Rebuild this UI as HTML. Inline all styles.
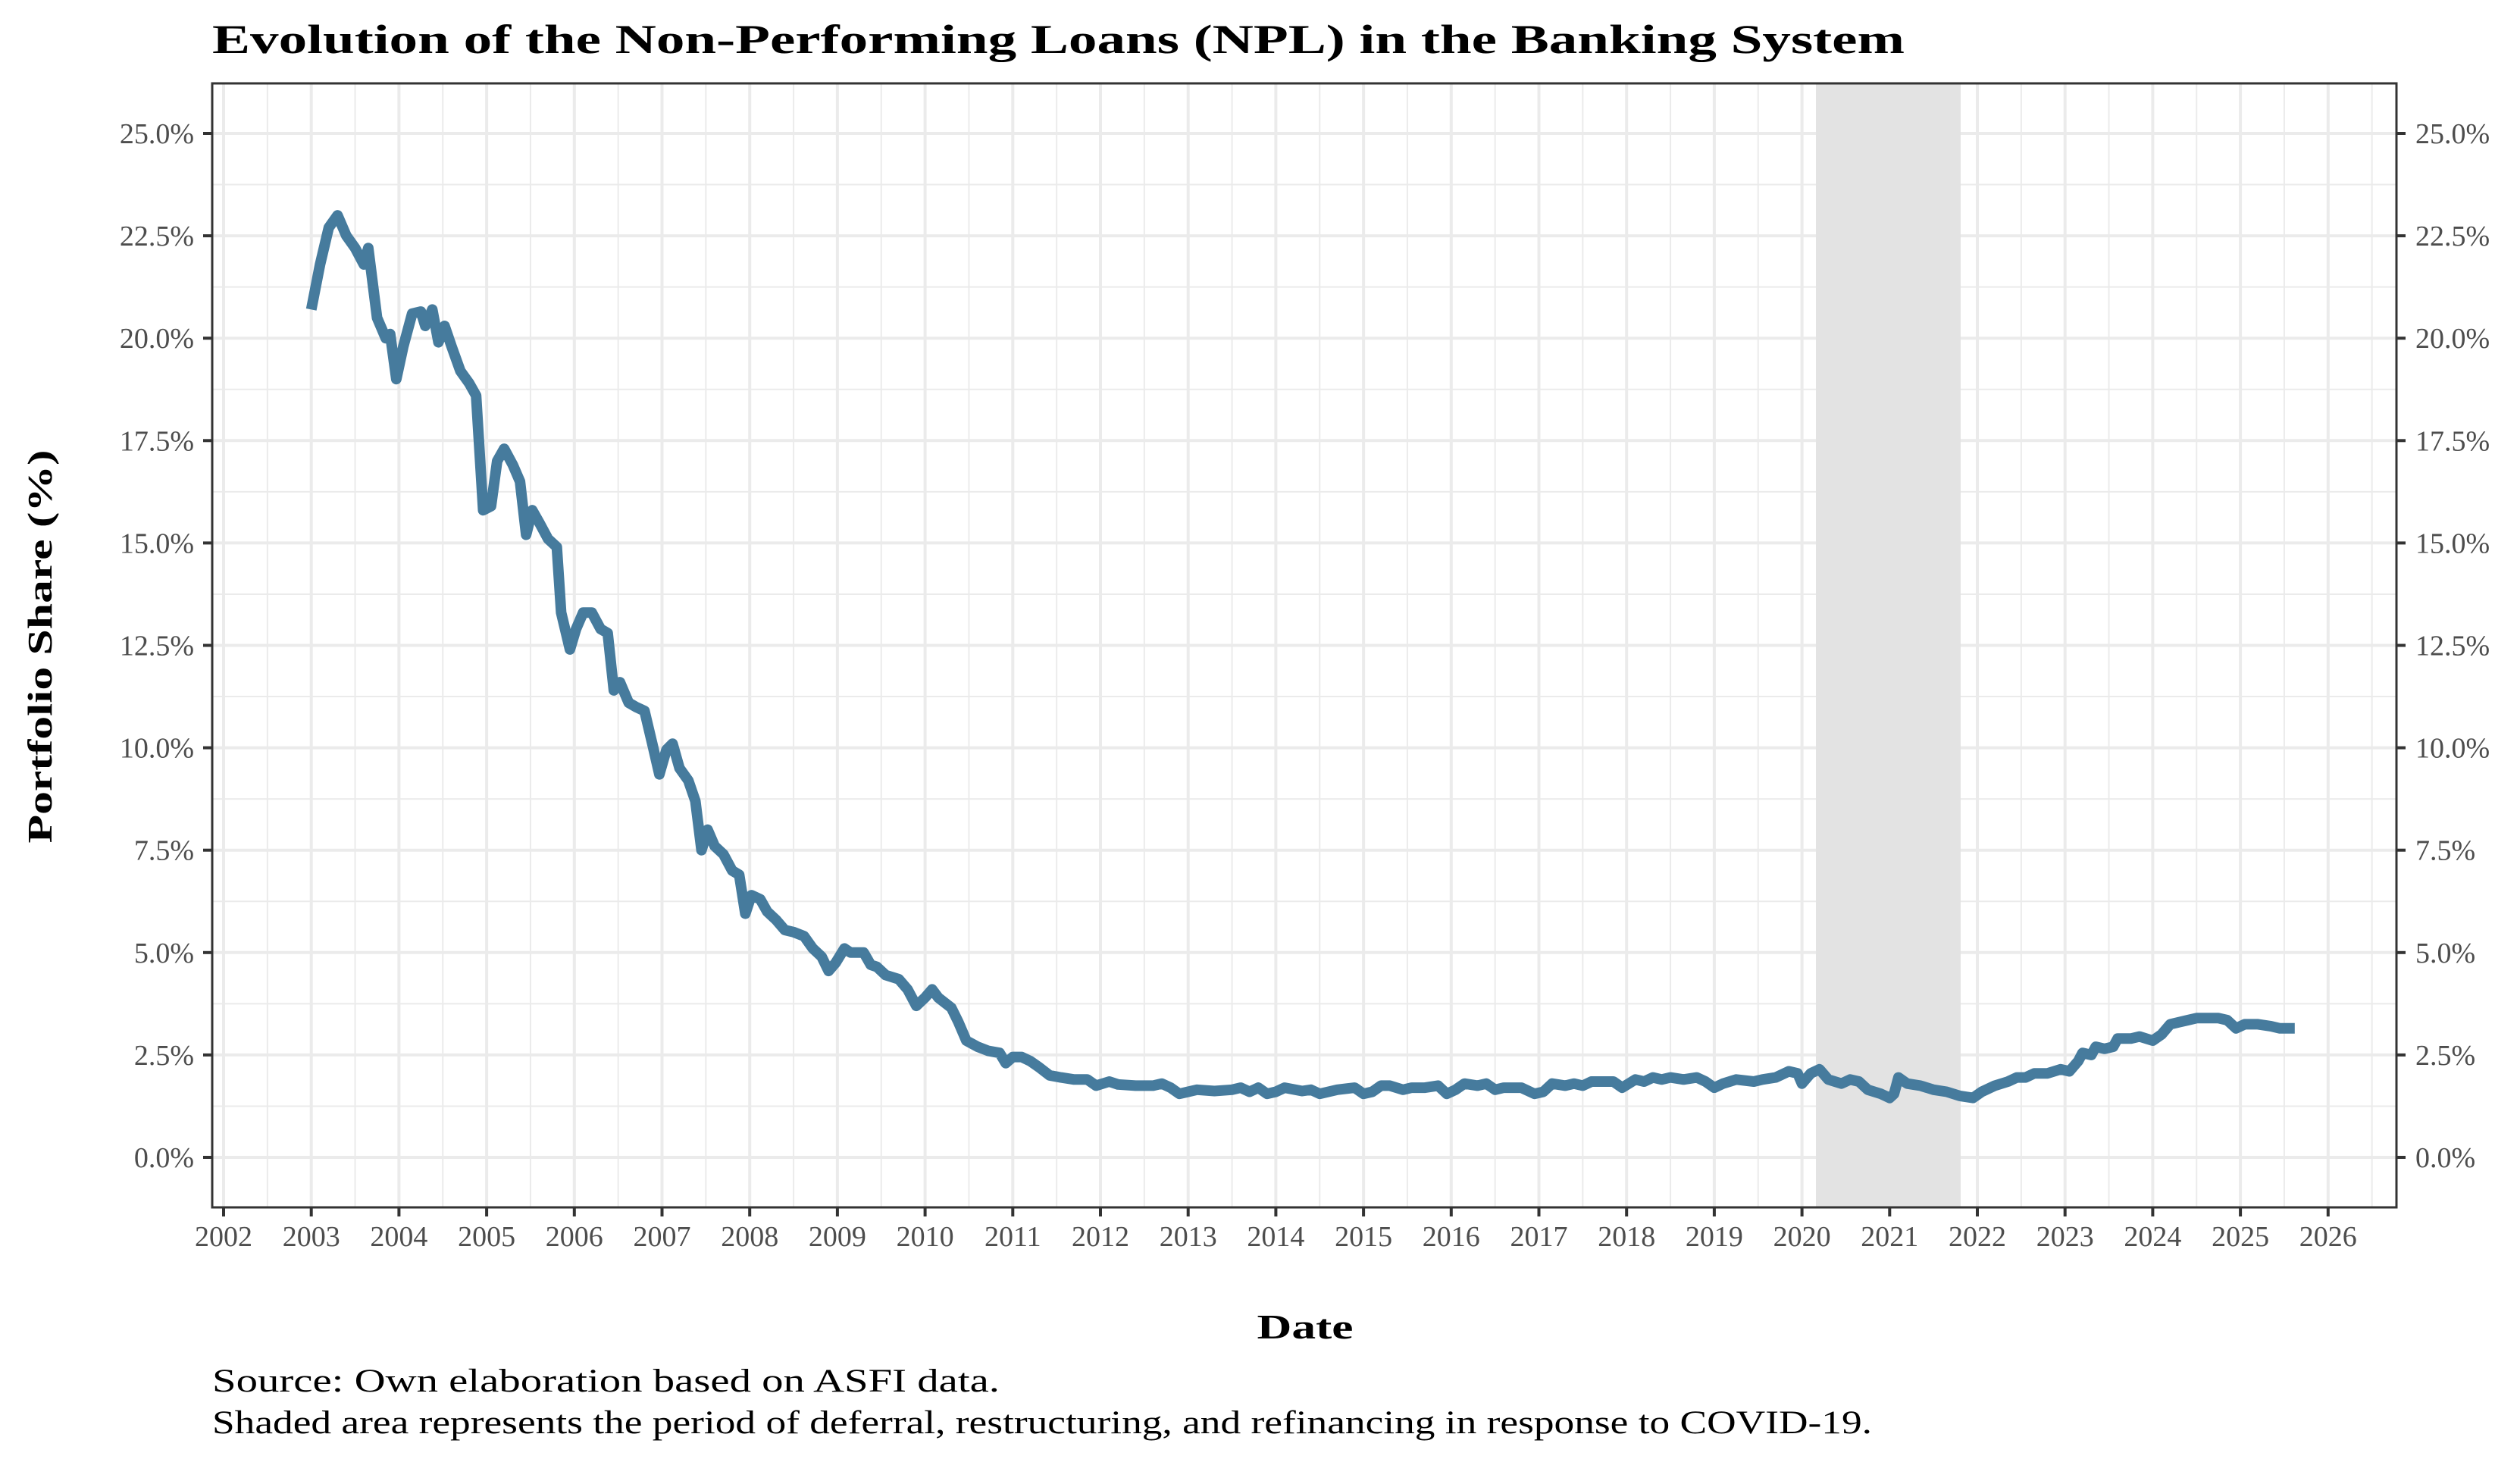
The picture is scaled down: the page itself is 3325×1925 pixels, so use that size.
<!DOCTYPE html>
<html><head><meta charset="utf-8"><style>
html,body{margin:0;padding:0;background:#fff;}
svg{display:block;}
text{font-family:"Liberation Serif","DejaVu Serif",serif;}
</style></head><body>
<svg id="s" width="3325" height="1925" viewBox="0 0 3325 1925" xmlns="http://www.w3.org/2000/svg">
<rect width="3325" height="1925" fill="#fff"/>
<g id="grid"></g>
<rect x="2396" y="110" width="191" height="1483" fill="#e3e3e3"/>
<polyline id="line" fill="none" stroke="#467b9d" stroke-width="14" stroke-linejoin="round" stroke-linecap="butt" points=""/>
<rect x="280" y="110" width="2882" height="1483" fill="none" stroke="#333" stroke-width="3"/>
<g id="ticks"></g>
<text x="280" y="70" font-size="54" font-weight="bold" textLength="2233" lengthAdjust="spacingAndGlyphs">Evolution of the Non-Performing Loans (NPL) in the Banking System</text>
<text x="1722" y="1766" font-size="46" font-weight="bold" text-anchor="middle" textLength="127" lengthAdjust="spacingAndGlyphs">Date</text>
<text transform="translate(68,853) rotate(-90)" font-size="46" font-weight="bold" text-anchor="middle" textLength="519" lengthAdjust="spacingAndGlyphs">Portfolio Share (%)</text>
<text x="280" y="1836" font-size="43" textLength="1039" lengthAdjust="spacingAndGlyphs">Source: Own elaboration based on ASFI data.</text>
<text x="280" y="1891" font-size="43" textLength="2190" lengthAdjust="spacingAndGlyphs">Shaded area represents the period of deferral, restructuring, and refinancing in response to COVID-19.</text>
</svg>
<script>
var NS="http://www.w3.org/2000/svg";
function X(t){return 295+(t-2002)*115.7;}
function Y(v){return 1527-v*54.04;}
function el(p,n,a,txt){var e=document.createElementNS(NS,n);for(var k in a)e.setAttribute(k,a[k]);if(txt!==undefined)e.textContent=txt;p.appendChild(e);return e;}
var g=document.getElementById('grid'),tk=document.getElementById('ticks');
for(var v=-1.25;v<=26.25;v+=1.25){var y=Y(v);if(y<110||y>1593)continue;var maj=Math.abs(v/2.5-Math.round(v/2.5))<1e-6;el(g,'line',{x1:280,x2:3162,y1:y,y2:y,stroke:'#ebebeb','stroke-width':maj?4:2});}
for(var t=2001.5;t<=2027;t+=0.5){var x=X(t);if(x<280||x>3162)continue;var maj=(t%1)==0;el(g,'line',{x1:x,x2:x,y1:110,y2:1593,stroke:'#ebebeb','stroke-width':maj?4:2});}
for(var i=0;i<=10;i++){var v=i*2.5,y=Y(v);var lab=v.toFixed(1)+'%';
el(tk,'line',{x1:268,x2:280,y1:y,y2:y,stroke:'#333','stroke-width':4});
el(tk,'line',{x1:3162,x2:3174,y1:y,y2:y,stroke:'#333','stroke-width':4});
el(tk,'text',{x:256,y:y+13,'font-size':38,fill:'#4d4d4d','text-anchor':'end'},lab);
el(tk,'text',{x:3187,y:y+13,'font-size':38,fill:'#4d4d4d'},lab);}
for(var yr=2002;yr<=2026;yr++){var x=X(yr);
el(tk,'line',{x1:x,x2:x,y1:1593,y2:1605,stroke:'#333','stroke-width':4});
el(tk,'text',{x:x,y:1644,'font-size':38,fill:'#4d4d4d','text-anchor':'middle'},String(yr));}
var d=[2003.0,20.7,2003.1,21.8,2003.2,22.7,2003.3,23.0,2003.4,22.5,2003.5,22.2,2003.6,21.8,2003.65,22.2,2003.75,20.5,2003.85,20.0,2003.9,20.1,2003.97,19.0,2004.05,19.8,2004.15,20.6,2004.25,20.65,2004.3,20.3,2004.38,20.7,2004.45,19.9,2004.52,20.3,2004.6,19.8,2004.7,19.2,2004.8,18.9,2004.88,18.6,2004.96,15.8,2005.05,15.9,2005.12,17.0,2005.2,17.3,2005.3,16.9,2005.38,16.5,2005.45,15.2,2005.52,15.8,2005.6,15.5,2005.7,15.1,2005.8,14.9,2005.85,13.3,2005.95,12.4,2006.02,12.9,2006.1,13.3,2006.2,13.3,2006.3,12.9,2006.38,12.8,2006.45,11.4,2006.52,11.6,2006.62,11.1,2006.7,11.0,2006.8,10.9,2006.9,10.0,2006.97,9.35,2007.05,9.95,2007.12,10.1,2007.2,9.5,2007.3,9.2,2007.38,8.7,2007.45,7.5,2007.52,8.0,2007.6,7.6,2007.7,7.4,2007.8,7.0,2007.88,6.9,2007.95,5.95,2008.02,6.4,2008.12,6.3,2008.2,6.0,2008.3,5.8,2008.4,5.55,2008.5,5.5,2008.62,5.4,2008.72,5.1,2008.82,4.9,2008.9,4.55,2008.98,4.75,2009.08,5.1,2009.15,5.0,2009.3,5.0,2009.38,4.7,2009.45,4.65,2009.55,4.45,2009.7,4.35,2009.8,4.1,2009.9,3.7,2010.0,3.9,2010.08,4.1,2010.15,3.9,2010.3,3.65,2010.38,3.3,2010.47,2.85,2010.6,2.7,2010.72,2.6,2010.85,2.55,2010.92,2.3,2011.0,2.45,2011.1,2.45,2011.2,2.35,2011.3,2.2,2011.42,2.0,2011.55,1.95,2011.7,1.9,2011.85,1.9,2011.95,1.75,2012.1,1.85,2012.2,1.78,2012.4,1.75,2012.6,1.75,2012.7,1.8,2012.8,1.7,2012.9,1.55,2013.0,1.6,2013.1,1.65,2013.3,1.62,2013.5,1.65,2013.6,1.7,2013.7,1.6,2013.8,1.7,2013.9,1.55,2014.0,1.6,2014.1,1.7,2014.3,1.62,2014.4,1.65,2014.5,1.55,2014.7,1.65,2014.9,1.7,2015.0,1.55,2015.1,1.6,2015.2,1.75,2015.3,1.75,2015.45,1.65,2015.55,1.7,2015.7,1.7,2015.85,1.75,2015.95,1.55,2016.05,1.65,2016.15,1.8,2016.3,1.75,2016.4,1.8,2016.5,1.65,2016.6,1.7,2016.8,1.7,2016.95,1.55,2017.05,1.6,2017.15,1.8,2017.3,1.75,2017.4,1.8,2017.5,1.75,2017.6,1.85,2017.75,1.85,2017.85,1.85,2017.95,1.7,2018.1,1.9,2018.2,1.85,2018.3,1.95,2018.4,1.9,2018.5,1.95,2018.65,1.9,2018.8,1.95,2018.9,1.85,2019.0,1.7,2019.1,1.8,2019.25,1.9,2019.45,1.85,2019.55,1.9,2019.7,1.95,2019.85,2.1,2019.95,2.05,2020.0,1.8,2020.1,2.05,2020.2,2.15,2020.3,1.9,2020.45,1.8,2020.55,1.9,2020.65,1.85,2020.75,1.65,2020.9,1.55,2021.0,1.45,2021.05,1.55,2021.1,1.95,2021.2,1.8,2021.35,1.75,2021.5,1.65,2021.65,1.6,2021.8,1.5,2021.95,1.45,2022.05,1.6,2022.2,1.75,2022.35,1.85,2022.45,1.95,2022.55,1.95,2022.65,2.05,2022.8,2.05,2022.95,2.15,2023.05,2.1,2023.15,2.35,2023.2,2.55,2023.3,2.5,2023.35,2.7,2023.45,2.65,2023.55,2.7,2023.6,2.9,2023.75,2.9,2023.85,2.95,2024.0,2.85,2024.1,3.0,2024.2,3.25,2024.3,3.3,2024.4,3.35,2024.5,3.4,2024.6,3.4,2024.75,3.4,2024.85,3.35,2024.95,3.15,2025.05,3.25,2025.2,3.25,2025.35,3.2,2025.45,3.15,2025.55,3.15,2025.62,3.15];
var p=[];for(var i=0;i<d.length;i+=2)p.push(X(d[i]).toFixed(1)+','+Y(d[i+1]).toFixed(1));
document.getElementById('line').setAttribute('points',p.join(' '));
</script>
</body></html>
